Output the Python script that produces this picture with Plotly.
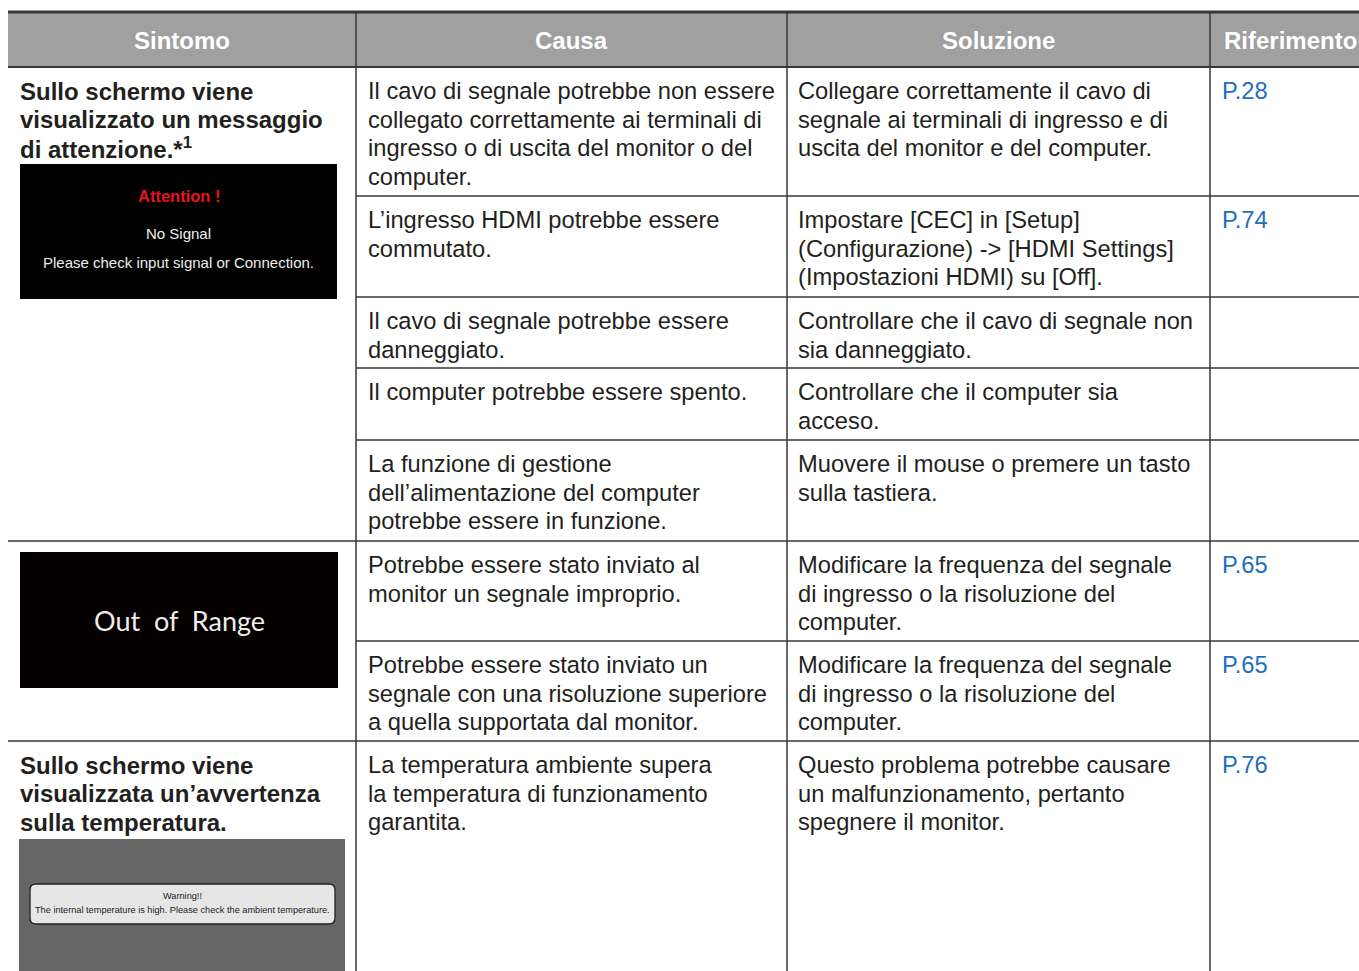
import plotly.graph_objects as go

# ---------------- data (text content) ----------------
headers = ["Sintomo", "Causa", "Soluzione", "Riferimento"]

symptom_1 = ["Sullo schermo viene", "visualizzato un messaggio", "di attenzione.*<sup>1</sup>"]
symptom_3 = ["Sullo schermo viene", "visualizzata un’avvertenza", "sulla temperatura."]

osd_attention = ["Attention !", "No Signal", "Please check input signal or Connection."]
osd_range = "Out  of  Range"
osd_warning = ["Warning!!", "The internal temperature is high. Please check the ambient temperature."]

causes = [
    ["Il cavo di segnale potrebbe non essere", "collegato correttamente ai terminali di",
     "ingresso o di uscita del monitor o del", "computer."],
    ["L’ingresso HDMI potrebbe essere", "commutato."],
    ["Il cavo di segnale potrebbe essere", "danneggiato."],
    ["Il computer potrebbe essere spento."],
    ["La funzione di gestione", "dell’alimentazione del computer", "potrebbe essere in funzione."],
    ["Potrebbe essere stato inviato al", "monitor un segnale improprio."],
    ["Potrebbe essere stato inviato un", "segnale con una risoluzione superiore",
     "a quella supportata dal monitor."],
    ["La temperatura ambiente supera", "la temperatura di funzionamento", "garantita."],
]
solutions = [
    ["Collegare correttamente il cavo di", "segnale ai terminali di ingresso e di",
     "uscita del monitor e del computer."],
    ["Impostare [CEC] in [Setup]", "(Configurazione) -> [HDMI Settings]", "(Impostazioni HDMI) su [Off]."],
    ["Controllare che il cavo di segnale non", "sia danneggiato."],
    ["Controllare che il computer sia", "acceso."],
    ["Muovere il mouse o premere un tasto", "sulla tastiera."],
    ["Modificare la frequenza del segnale", "di ingresso o la risoluzione del", "computer."],
    ["Modificare la frequenza del segnale", "di ingresso o la risoluzione del", "computer."],
    ["Questo problema potrebbe causare", "un malfunzionamento, pertanto", "spegnere il monitor."],
]
references = ["P.28", "P.74", "", "", "", "P.65", "P.65", "P.76"]

# ---------------- layout constants ----------------
W, H = 1359, 971
LEFT = 8
COL_X = [356, 787, 1210]            # vertical separators
TOP, HEAD_BOT = 12, 67
ROW_TOPS = [67, 196, 297, 368, 440, 541, 641, 741]
FULL_ROWS = {541, 741}              # rows whose top line spans the first column too
TEXT_X = [18, 366, 796, 1220]
LINE_H = 28.7
FIRST_OFF = 24
INK = "#231f20"
LINE = "#3b3536"
BLUE = "#1f6fbf"
FONT = "Liberation Sans, Arial, Helvetica, sans-serif"
FS = 23.7
FSB = 24

fig = go.Figure()
shapes = []
ann = []

# header
shapes.append(dict(type="rect", x0=LEFT, x1=W, y0=TOP, y1=HEAD_BOT, fillcolor="#a0a0a0",
                   line=dict(width=0), layer="below"))
hx = [(LEFT + COL_X[0]) / 2, (COL_X[0] + COL_X[1]) / 2, (COL_X[1] + COL_X[2]) / 2, 1290]
for t, x in zip(headers, hx):
    ann.append(dict(x=x, y=(TOP + HEAD_BOT) / 2 + 1, text=f"<b>{t}</b>", showarrow=False,
                    xanchor="center", yanchor="middle",
                    font=dict(family=FONT, size=FSB, color="white")))

# horizontal lines
shapes.append(dict(type="line", x0=LEFT, x1=W, y0=TOP, y1=TOP, line=dict(color=LINE, width=3)))
shapes.append(dict(type="line", x0=LEFT, x1=W, y0=HEAD_BOT, y1=HEAD_BOT, line=dict(color=LINE, width=2.2)))
for yt in ROW_TOPS[1:]:
    x0 = LEFT if yt in FULL_ROWS else COL_X[0]
    shapes.append(dict(type="line", x0=x0, x1=W, y0=yt, y1=yt, line=dict(color=LINE, width=1.5)))
# vertical lines
for xc in COL_X:
    shapes.append(dict(type="line", x0=xc, x1=xc, y0=TOP, y1=H, line=dict(color=LINE, width=1.5)))


def add_lines(lines, x, ytop, color=INK, bold=False, size=FS):
    for i, s in enumerate(lines):
        txt = f"<b>{s}</b>" if bold else s
        ann.append(dict(x=x, y=ytop + FIRST_OFF + i * LINE_H, text=txt, showarrow=False,
                        xanchor="left", yanchor="middle",
                        font=dict(family=FONT, size=size, color=color)))


# body rows
for r, yt in enumerate(ROW_TOPS):
    add_lines(causes[r], TEXT_X[1], yt)
    add_lines(solutions[r], TEXT_X[2], yt)
    if references[r]:
        add_lines([references[r]], TEXT_X[3], yt, color=BLUE)

# symptom column
add_lines(symptom_1, TEXT_X[0], ROW_TOPS[0], bold=True, size=FSB)
add_lines(symptom_3, TEXT_X[0], ROW_TOPS[7], bold=True, size=FSB)

# OSD box 1 (black, attention)
shapes.append(dict(type="rect", x0=20, x1=337, y0=164, y1=299, fillcolor="#000000", line=dict(width=0)))
bx = (20 + 337) / 2
ann.append(dict(x=bx, y=196, text=f"<b>{osd_attention[0]}</b>", showarrow=False, xanchor="center",
                yanchor="middle", font=dict(family=FONT, size=16.5, color="#e8141b")))
ann.append(dict(x=bx, y=233, text=osd_attention[1], showarrow=False, xanchor="center",
                yanchor="middle", font=dict(family=FONT, size=15, color="#eeeeee")))
ann.append(dict(x=bx, y=262, text=osd_attention[2], showarrow=False, xanchor="center",
                yanchor="middle", font=dict(family=FONT, size=15, color="#eeeeee")))

# OSD box 2 (black, out of range)
shapes.append(dict(type="rect", x0=20, x1=338, y0=552, y1=688, fillcolor="#040000", line=dict(width=0)))
ann.append(dict(x=(20 + 338) / 2, y=620, text=osd_range, showarrow=False, xanchor="center",
                yanchor="middle", font=dict(family="Lato, Open Sans, sans-serif", size=27, color="#eeeeee")))

# OSD box 3 (grey, warning)
shapes.append(dict(type="rect", x0=19, x1=345, y0=839, y1=H, fillcolor="#666666", line=dict(width=0)))
r = 6
x0, x1, y0, y1 = 30, 335, 884, 924
path = (f"M {x0 + r},{y0} L {x1 - r},{y0} Q {x1},{y0} {x1},{y0 + r} L {x1},{y1 - r} "
        f"Q {x1},{y1} {x1 - r},{y1} L {x0 + r},{y1} Q {x0},{y1} {x0},{y1 - r} "
        f"L {x0},{y0 + r} Q {x0},{y0} {x0 + r},{y0} Z")
shapes.append(dict(type="path", path=path, fillcolor="#e6e6e6", line=dict(color="#222222", width=1.3)))
ann.append(dict(x=(x0 + x1) / 2, y=896, text=osd_warning[0], showarrow=False, xanchor="center",
                yanchor="middle", font=dict(family=FONT, size=9.2, color="#222222")))
ann.append(dict(x=(x0 + x1) / 2, y=910, text=osd_warning[1], showarrow=False, xanchor="center",
                yanchor="middle", font=dict(family=FONT, size=9.2, color="#222222")))

fig.update_layout(
    width=W, height=H, margin=dict(l=0, r=0, t=0, b=0),
    paper_bgcolor="white", plot_bgcolor="white",
    xaxis=dict(range=[0, W], visible=False, fixedrange=True),
    yaxis=dict(range=[H, 0], visible=False, fixedrange=True),
    shapes=shapes, annotations=ann, showlegend=False,
)
fig.write_html("out.html", config={"displayModeBar": False},
               post_script="document.body.style.margin='0';document.body.style.overflow='hidden';")
